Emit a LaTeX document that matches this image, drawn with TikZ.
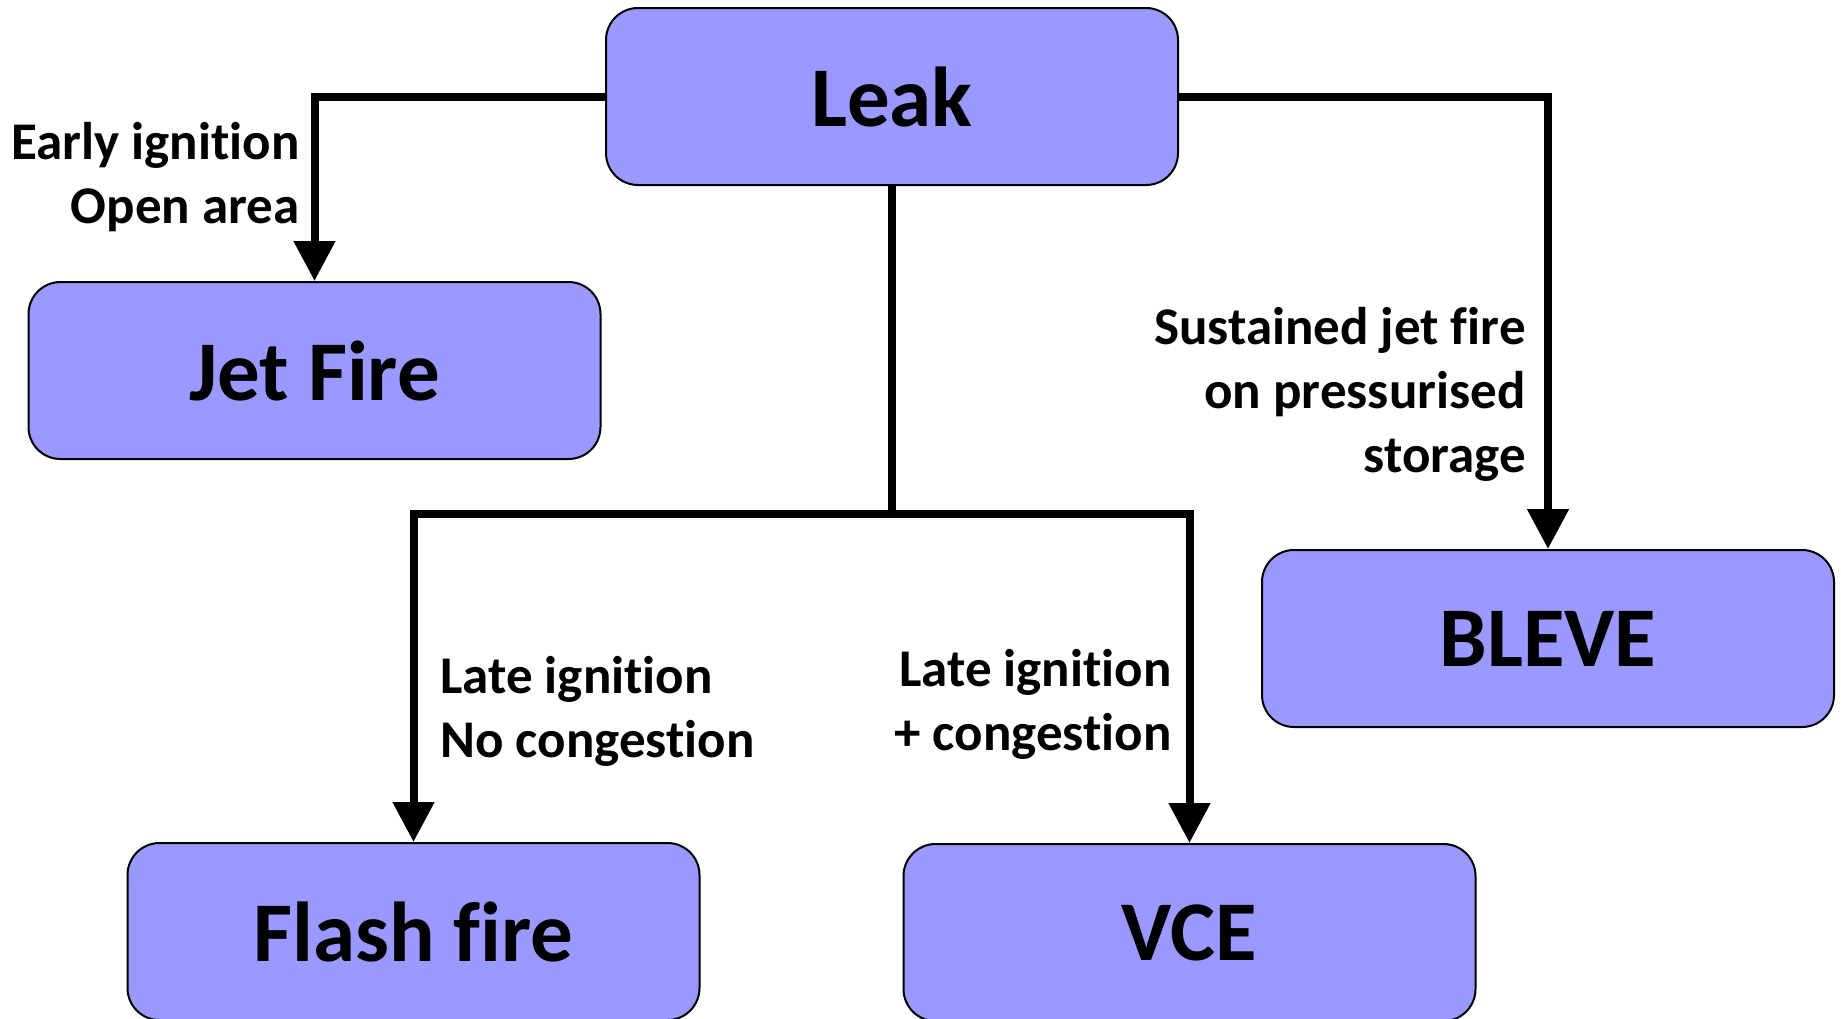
\documentclass[tikz,border=0pt]{standalone}
\usepackage{fontspec}
\setmainfont{Carlito}[Ligatures=NoCommon]
\usetikzlibrary{arrows.meta}
\definecolor{boxfill}{HTML}{9999FF}
\begin{document}
\begin{tikzpicture}[x=0.5pt,y=-0.5pt,
  box/.style={draw=black, line width=1pt, fill=boxfill, rounded corners=16pt,
    minimum width=286pt, minimum height=88.5pt, inner sep=0pt,
    font=\bfseries\fontsize{42.5}{50}\selectfont},
  lbl/.style={font=\bfseries\fontsize{26.5}{32}\selectfont, inner sep=0pt},
  seg/.style={line width=4pt},
  conn/.style={line width=4pt, -{Triangle[width=20pt,length=20pt]}}]
\useasboundingbox (0,0) rectangle (1841,1018);
\node[box] (leak) at (892,96.5) {Leak};
\node[box] (jet) at (314.5,370.5) {Jet Fire};
\node[box] (bleve) at (1548,638.5) {BLEVE};
\node[box] (flash) at (413.5,931.5) {Flash fire};
\node[box] (vce) at (1189.5,932.5) {VCE};
\coordinate (split) at (892,514);
\draw[conn] (leak.west) -| (jet.north);
\draw[conn] (leak.east) -| (bleve.north);
\draw[seg] (leak.south) -- (split);
\draw[conn] (split) -| (flash.north);
\draw[conn] (split) -| (vce.north);
\node[lbl, align=right, anchor=base east] (l1) at (300,223) {Early ignition\\Open area};
\node[lbl, align=right, anchor=base east] (l2) at (1526,472) {Sustained jet fire\\on pressurised\\storage};
\node[lbl, align=left, anchor=base west] (l3) at (440,757) {Late ignition\\No congestion};
\node[lbl, align=right, anchor=base east] (l4) at (1172,750) {Late ignition\\+ congestion};
\end{tikzpicture}
\end{document}
